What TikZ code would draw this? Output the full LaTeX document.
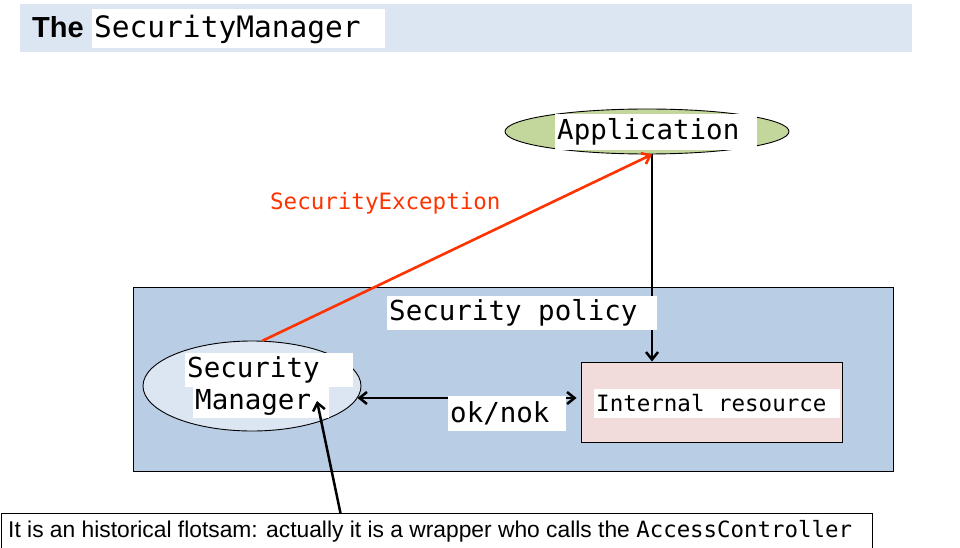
\documentclass[tikz,border=0pt]{standalone}
\usepackage{fontspec}
\setmainfont{Liberation Sans}
\newfontfamily\monof{DejaVu Sans Mono}
\newcommand\monosize[1]{\monof\fontsize{#1}{#1}\selectfont}
\newcommand\msp{\hspace*{0.602em}}
\usetikzlibrary{shapes.geometric,arrows.meta}
\definecolor{titlebg}{HTML}{DCE6F2}
\definecolor{appgreen}{HTML}{C3D69B}
\definecolor{bluebox}{HTML}{B9CDE5}
\definecolor{smfill}{HTML}{DCE6F2}
\definecolor{resfill}{HTML}{F2DCDB}
\definecolor{exred}{HTML}{FF3300}
\begin{document}
\begin{tikzpicture}[x=1pt,y=-1pt,
  every node/.style={inner sep=0pt},
  wlbl/.style={fill=white, anchor=west, inner xsep=2pt, inner ysep=0pt, align=left},
  monoL/.style={font=\monosize{27.5}},
  monoM/.style={font=\monosize{22.5}},
  tipb/.tip={Straight Barb[length=7.5pt,width=12pt]},
  arr/.style={line width=2.5pt, -tipb},
  darr/.style={line width=2.5pt, tipb-tipb},
  redarr/.style={line width=2.6pt, draw=exred, -{Straight Barb[length=7.5pt,width=12pt]}},
  thinbox/.style={draw=black, line width=0.9pt}]
\useasboundingbox (0,0) rectangle (960,548);
% title
\node[fill=titlebg, minimum width=892pt, minimum height=48pt, anchor=north west] (band) at (20,4) {};
\node[anchor=base west, font=\fontsize{29}{30}\selectfont\bfseries] (the) at (32,38) {The};
\node[wlbl, text width=289pt, minimum height=39pt, font=\monosize{29.5}] (tsm) at (92,29) {SecurityManager};
% main shapes
\node[thinbox, fill=bluebox, minimum width=760pt, minimum height=184pt, anchor=north west] (pol) at (133,287) {};
\node[ellipse, thinbox, fill=appgreen, minimum width=284pt, minimum height=45pt] (app) at (647,131.5) {};
\node[ellipse, thinbox, fill=smfill, minimum width=218pt, minimum height=90pt] (sm) at (252,386) {};
\node[thinbox, fill=resfill, minimum width=261pt, minimum height=80pt] (res) at (711.5,402) {};
% connectors
\draw[arr] ([xshift=5pt]app.south) -- ([xshift=5pt]app.south |- res.north);
\draw[darr] ([shift={(-4pt,-12pt)}]sm.east) -- ([shift={(-4pt,-12pt)}]sm.east -| res.west);
\draw[redarr] (sm.77) -- ([xshift=5pt]app.south);
% labels
\node[wlbl, monoL, text width=198pt, minimum height=36pt] (appt) at (555,132) {Application};
\node[wlbl, monoL, text width=266pt, minimum height=34pt] (polt) at (387,312.5) {Security\msp policy};
\node[wlbl, monoL, text width=114pt, minimum height=35pt] (okt) at (448,413) {ok/nok};
\node[wlbl, monoL, text width=164pt, minimum height=34pt] (smt1) at (185,369.5) {Security};
\node[wlbl, monoL, text width=132pt, minimum height=31pt] (smt2) at (193,402) {Manager};
\node[wlbl, monoM, text width=242pt, minimum height=29pt] (rest) at (594,403) {Internal\msp resource};
\node[anchor=west, monoM, text=exred] (exc) at (270,203) {SecurityException};
% callout
\node[thinbox, fill=white, minimum width=871pt, minimum height=50pt, anchor=north west] (callout) at (1,513) {};
\node[anchor=west, font=\fontsize{22.8}{25}\selectfont] (calltxt) at (8,531) {It is an historical flotsam: actually it is a wrapper who calls the {\monosize{22.4}AccessController}};
\coordinate (tip) at (317,401);
\draw[arr] ([xshift=-96.5pt]callout.north) -- (tip);
\end{tikzpicture}
\end{document}
